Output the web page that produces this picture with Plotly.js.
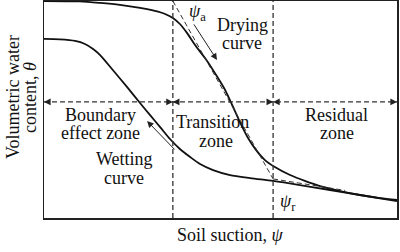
<!DOCTYPE html>
<html>
<head>
<meta charset="utf-8">
<script src="https://cdn.plot.ly/plotly-3.0.1.min.js"></script>
<style>html,body{margin:0;padding:0;background:#fff;}#chart{width:400px;height:252px;}</style>
</head>
<body>
<div id="chart"></div>
<script>
// Schematic soil-water characteristic curve (normalised 0-100 units)
const dryingX = [0,10.2,15.9,21.5,27.2,31.4,34.3,36.5,38.5,40.5,42.8,46.2,49.3,51.3,53.3,55.5,57.8,60.1,62.6,65.4,69.7,73.9,78.2,83.9,89.5,95.2,100];
const dryingY = [100,99.8,99.1,98.2,96.8,95.4,94.0,92.2,89.4,85.3,79.7,72.4,64.5,59.0,52.1,44.2,36.9,31.3,26.7,23.5,19.8,17.1,14.7,12.4,10.6,9.2,8.3];
const wettingX = [0,4.5,8.8,11.6,13.9,15.9,19.5,23.5,27.2,30.0,32.9,35.7,38.5,41.4,44.2,47.9,52.7,58.4,64.9,72.5,81.0,89.5,100];
const wettingY = [82.5,82.3,81.6,80.2,77.9,75.1,68.2,60.4,53.0,47.5,41.9,36.4,31.8,28.1,24.9,22.1,19.8,18.4,17.1,15.2,12.9,10.6,7.8];
const tangentAX = [36.5, 64.9];
const tangentAY = [100, 18.0];
const tangentRX = [64.9, 85.3];
const tangentRY = [18.0, 12.7];
const zoneBounds = [0, 36.5, 64.9, 100];
const zoneArrowY = 53.5;
const zoneNames = [["Boundary","effect zone"],["Transition","zone"],["Residual","zone"]];
const zoneLabelX = [16.0, 47.8, 83.0];
const zoneLabelY1 = [47.5, 44.2, 47.5];
const zoneLabelY2 = [39.2, 35.5, 39.2];
const dryArrow = {tail:[42.2, 89.9], head:[49.0, 72.8]};
const wetArrow = {tail:[37.4, 30.9], head:[29.2, 44.7]};

const FONT = "'Liberation Serif', 'Times New Roman', Times, serif";
const black = "#111";
const dashCol = "#333";

const traces = [
  {x: dryingX, y: dryingY, mode: "lines", line: {color: black, width: 1.8, shape: "spline", smoothing: 0.8}, hoverinfo: "skip", name: "Drying curve"},
  {x: wettingX, y: wettingY, mode: "lines", line: {color: black, width: 1.8, shape: "spline", smoothing: 0.8}, hoverinfo: "skip", name: "Wetting curve"},
  {x: tangentAX, y: tangentAY, mode: "lines", line: {color: dashCol, width: 1, dash: "5px,3px"}, hoverinfo: "skip"},
  {x: tangentRX, y: tangentRY, mode: "lines", line: {color: dashCol, width: 1, dash: "5px,3px"}, hoverinfo: "skip"},
  {x: [zoneBounds[0], zoneBounds[3]], y: [zoneArrowY, zoneArrowY], mode: "lines", line: {color: dashCol, width: 1.3, dash: "5px,3px"}, hoverinfo: "skip"},
  {x: [zoneBounds[1], zoneBounds[1]], y: [0, 100], mode: "lines", line: {color: dashCol, width: 1.3, dash: "5px,3px"}, hoverinfo: "skip"},
  {x: [zoneBounds[2], zoneBounds[2]], y: [0, 100], mode: "lines", line: {color: dashCol, width: 1.3, dash: "5px,3px"}, hoverinfo: "skip"}
];

const ann = [];
function txt(t, x, y, opts) {
  ann.push(Object.assign({text: t, x: x, y: y, xref: "x", yref: "y", showarrow: false,
    font: {family: FONT, size: 18, color: black}, xanchor: "center", yanchor: "middle"}, opts || {}));
}
zoneNames.forEach((lines, i) => {
  txt(lines[0], zoneLabelX[i], zoneLabelY1[i]);
  txt(lines[1], zoneLabelX[i] + (i === 1 ? 0.8 : 0), zoneLabelY2[i]);
});
txt("Drying", 56.1, 88.9);
txt("curve", 56.1, 80.6);
txt("Wetting", 22.9, 27.2);
txt("curve", 22.7, 18.4);
txt("<i>ψ</i><sub>a</sub>", 43.5, 94.5);
txt("<i>ψ</i><sub>r</sub>", 69.0, 7.0);

// zone arrowheads
const heads = [[zoneBounds[0], 1], [zoneBounds[1], -1], [zoneBounds[1], 1], [zoneBounds[2], -1], [zoneBounds[2], 1], [zoneBounds[3], -1]];
heads.forEach(h => {
  ann.push({x: h[0], y: zoneArrowY, xref: "x", yref: "y", ax: 7 * h[1], ay: 0, text: "", showarrow: true,
    arrowhead: 2, arrowsize: 1.2, arrowwidth: 1.1, arrowcolor: "#222", standoff: 0});
});
// curve direction arrows
[dryArrow, wetArrow].forEach(a => {
  ann.push({x: a.head[0], y: a.head[1], ax: a.tail[0], ay: a.tail[1], xref: "x", yref: "y", axref: "x", ayref: "y",
    text: "", showarrow: true, arrowhead: 2, arrowsize: 1.3, arrowwidth: 1, arrowcolor: "#222", standoff: 0});
});
// axis titles
ann.push({text: "Soil suction, <i>ψ</i>", xref: "paper", yref: "paper", x: 0.527, y: -0.078, showarrow: false,
  font: {family: FONT, size: 18, color: black}, xanchor: "center", yanchor: "middle"});
ann.push({text: "Volumetric water", xref: "paper", yref: "paper", x: -0.088, y: 0.557, showarrow: false, textangle: -90,
  font: {family: FONT, size: 18, color: black}, xanchor: "center", yanchor: "middle"});
ann.push({text: "content, <i>θ</i>", xref: "paper", yref: "paper", x: -0.040, y: 0.557, showarrow: false, textangle: -90,
  font: {family: FONT, size: 18, color: black}, xanchor: "center", yanchor: "middle"});

const layout = {
  width: 400, height: 252,
  margin: {l: 44, r: 3, t: 1, b: 34, pad: 0},
  paper_bgcolor: "#fff", plot_bgcolor: "#fff",
  showlegend: false,
  font: {family: FONT},
  xaxis: {range: [0, 100], showgrid: false, zeroline: false, showticklabels: false, ticks: "",
    showline: true, mirror: true, linecolor: "#222", linewidth: 1.5, fixedrange: true},
  yaxis: {range: [0, 100], showgrid: false, zeroline: false, showticklabels: false, ticks: "",
    showline: true, mirror: true, linecolor: "#222", linewidth: 1.5, fixedrange: true},
  annotations: ann
};
Plotly.newPlot("chart", traces, layout, {staticPlot: true, displayModeBar: false});
</script>
</body>
</html>
